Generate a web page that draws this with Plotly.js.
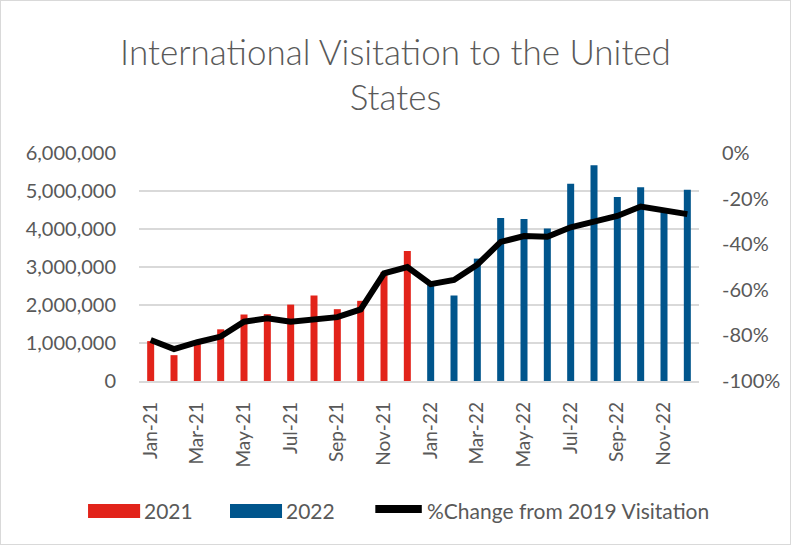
<!DOCTYPE html>
<html>
<head>
<meta charset="utf-8">
<script src="https://cdn.plot.ly/plotly-3.0.1.min.js"></script>
<style>
html,body{margin:0;padding:0;background:#fff;}
#chart{width:791px;height:545px;box-sizing:border-box;border:1px solid #d9d9d9;}
</style>
</head>
<body>
<div id="chart"></div>
<script>
var months2021 = ["Jan-21","Feb-21","Mar-21","Apr-21","May-21","Jun-21","Jul-21","Aug-21","Sep-21","Oct-21","Nov-21","Dec-21"];
var months2022 = ["Jan-22","Feb-22","Mar-22","Apr-22","May-22","Jun-22","Jul-22","Aug-22","Sep-22","Oct-22","Nov-22","Dec-22"];
var visits2021 = [1050000, 680000, 970000, 1360000, 1750000, 1760000, 2010000, 2250000, 1890000, 2110000, 2870000, 3420000];
var visits2022 = [2530000, 2250000, 3220000, 4290000, 4260000, 4010000, 5190000, 5680000, 4840000, 5100000, 4550000, 5030000];
var pctChange = [-82, -86, -83, -80.5, -74, -72.5, -74, -72.8, -72, -68.6, -52.8, -50,
                 -57.5, -55.7, -49, -39, -36.4, -36.7, -32.6, -30.1, -27.6, -23.5, -25, -26.8];
var tickLabels = ["Jan-21","Mar-21","May-21","Jul-21","Sep-21","Nov-21","Jan-22","Mar-22","May-22","Jul-22","Sep-22","Nov-22"];
var seriesNames = ["2021", "2022", "%Change from 2019 Visitation"];
var seriesColors = ["#E2231A", "#00558C", "#000000"];

var allMonths = months2021.concat(months2022);
var fnt = "Lato, 'Open Sans', sans-serif";
var grey = "#595959";

var traces = [
  {type:"bar", name:seriesNames[0], x:months2021, y:visits2021, marker:{color:seriesColors[0]}, width:0.3, showlegend:false},
  {type:"bar", name:seriesNames[1], x:months2022, y:visits2022, marker:{color:seriesColors[1]}, width:0.3, showlegend:false},
  {type:"scatter", mode:"lines", name:seriesNames[2], x:allMonths, y:pctChange,
   yaxis:"y2", line:{color:seriesColors[2], width:6}, showlegend:false}
];

// custom legend (wide swatches like the original), placed in paper coordinates below the plot
var legY = -0.57;
var shapes = [
  {type:"rect", xref:"paper", yref:"paper", x0:-0.091, x1:0.002, y0:-0.601, y1:-0.539, fillcolor:seriesColors[0], line:{width:0}},
  {type:"rect", xref:"paper", yref:"paper", x0:0.1625, x1:0.2554, y0:-0.601, y1:-0.539, fillcolor:seriesColors[1], line:{width:0}},
  {type:"line", xref:"paper", yref:"paper", x0:0.422, x1:0.505, y0:-0.561, y1:-0.561, line:{color:seriesColors[2], width:8}}
];
var legFont = {size:21, color:grey};
var annotations = [
  {xref:"paper", yref:"paper", x:0.006, y:legY, xanchor:"left", yanchor:"middle", text:seriesNames[0], showarrow:false, font:legFont},
  {xref:"paper", yref:"paper", x:0.259, y:legY, xanchor:"left", yanchor:"middle", text:seriesNames[1], showarrow:false, font:legFont},
  {xref:"paper", yref:"paper", x:0.511, y:legY, xanchor:"left", yanchor:"middle", text:seriesNames[2], showarrow:false, font:legFont}
];

var layout = {
  width:789, height:543,
  margin:{l:138, r:91, t:152, b:163, pad:0},
  paper_bgcolor:"#ffffff", plot_bgcolor:"#ffffff",
  font:{family:fnt, color:grey},
  barmode:"overlay",
  showlegend:false,
  title:{text:"International Visitation to the United<br>States", font:{family:fnt, size:35, color:grey, weight:300},
         x:0.5, xref:"container", y:0.883, yref:"container", yanchor:"middle"},
  xaxis:{type:"category", categoryorder:"array", categoryarray:allMonths,
         tickmode:"array", tickvals:tickLabels, ticktext:tickLabels, tickangle:-90,
         tickfont:{size:19, color:grey}, showgrid:false, showline:true, linecolor:"#d9d9d9", linewidth:1.5,
         ticks:"", ticklabelstandoff:12, range:[-0.5,23.5], zeroline:false},
  yaxis:{range:[0,6000000], tickvals:[0,1000000,2000000,3000000,4000000,5000000,6000000],
         ticktext:["0","1,000,000","2,000,000","3,000,000","4,000,000","5,000,000","6,000,000"],
         tickfont:{size:20, color:grey}, showgrid:true, gridcolor:"#d9d9d9", gridwidth:1.5,
         zeroline:false, ticks:"", ticklabelstandoff:22, showline:false},
  yaxis2:{overlaying:"y", side:"right", range:[-100,0], tickvals:[-100,-80,-60,-40,-20,0],
          ticktext:["-100%","-80%","-60%","-40%","-20%","0%"], tickfont:{size:20, color:grey},
          showgrid:false, zeroline:false, ticks:"", ticklabelstandoff:22},
  shapes:shapes,
  annotations:annotations
};

Plotly.newPlot("chart", traces, layout, {displayModeBar:false, staticPlot:true});
</script>
</body>
</html>
